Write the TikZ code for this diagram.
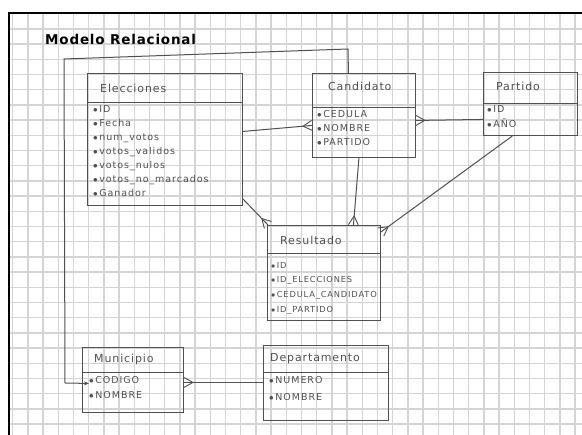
\documentclass[tikz,border=0pt]{standalone}
\usepackage{fontspec}
\setsansfont{DejaVu Sans}
\newfontfamily\handfont[LetterSpace=8]{DejaVu Sans}
\newfontfamily\attrfont[LetterSpace=10]{DejaVu Sans}
\newfontfamily\titlefont[LetterSpace=6]{DejaVu Sans}
\usetikzlibrary{arrows.meta,decorations.markings}
\definecolor{pencil}{HTML}{505050}
\definecolor{gridc}{HTML}{D4D4D4}
\tikzset{
  ent/.style={draw=pencil, line width=0.9pt, anchor=north west, inner sep=0pt},
  htext/.style={anchor=west, inner sep=0pt, text=pencil, font=\handfont\fontsize{11}{12}\selectfont},
  atext/.style={anchor=north west, inner sep=0pt, text=pencil, align=left, font=\attrfont\fontsize{9.5}{14}\selectfont},
  conn/.style={draw=pencil, line width=1pt},
  crowend/.style={postaction={decorate,decoration={markings,mark=at position 1 with {\draw[pencil,line width=0.9pt] (-9pt,0pt)--(0pt,5pt) (-9pt,0pt)--(0pt,-5pt);}}}},
  crowstart/.style={postaction={decorate,decoration={markings,mark=at position 0 with {\draw[pencil,line width=0.9pt] (9pt,0pt)--(0pt,5pt) (9pt,0pt)--(0pt,-5pt);}}}},
  gridline/.style={draw=gridc, line width=1.3pt}
}
\newcommand{\bl}{$\bullet$\,}
\begin{document}
\begin{tikzpicture}[x=1pt,y=-1pt]
\useasboundingbox (0,0) rectangle (582,435);
\fill[white] (0,0) rectangle (582,435);
% grid paper
\foreach \i in {0,...,37} {
  \pgfmathsetmacro\gx{12.7+15.2*\i}
  \draw[gridline] (\gx,13) -- (\gx,435);
}
\foreach \j in {0,...,27} {
  \pgfmathsetmacro\gy{13.7+15.2*\j}
  \draw[gridline] (9,\gy) -- (582,\gy);
}
% frame
\draw[black, line width=2.5pt] (582,13) -- (9,13) -- (9,435);

% title
\node[anchor=west, inner sep=0pt, font=\titlefont\bfseries\fontsize{13.5}{15}\selectfont] (title) at (45,39) {Modelo Relacional};

% Elecciones
\node[ent, minimum width=155pt, minimum height=29pt] (elecH) at (87,73) {};
\node[ent, minimum width=155pt, minimum height=103pt] (elecB) at (87,102) {};
\node[htext] (elecT) at (100,88) {Elecciones};
\node[atext] (elecA) at (93,105) {\bl ID\\ \bl Fecha\\ \bl num\_votos\\ \bl votos\_validos\\ \bl votos\_nulos\\ \bl votos\_no\_marcados\\ \bl Ganador};

% Candidato
\node[ent, minimum width=103pt, minimum height=34pt] (candH) at (312,73) {};
\node[ent, minimum width=103pt, minimum height=50pt] (candB) at (312,107) {};
\node[htext] (candT) at (328,86) {Candidato};
\node[atext] (candA) at (317,110) {\bl CEDULA\\ \bl NOMBRE\\ \bl PARTIDO};

% Partido
\node[ent, minimum width=94pt, minimum height=31pt] (partH) at (483,72) {};
\node[ent, minimum width=94pt, minimum height=32pt] (partB) at (483,103) {};
\node[htext] (partT) at (496,86) {Partido};
\node[atext, font=\attrfont\fontsize{9.5}{15}\selectfont] (partA) at (487,105) {\bl ID\\ \bl AÑO};

% Resultado
\node[ent, minimum width=113pt, minimum height=28pt] (resH) at (267,225) {};
\node[ent, minimum width=113pt, minimum height=67pt] (resB) at (267,253) {};
\node[htext] (resT) at (280,240) {Resultado};
\node[atext, font=\attrfont\fontsize{8.3}{14.7}\selectfont] (resA) at (271,262) {\bl ID\\ \bl ID\_ELECCIONES\\ \bl CEDULA\_CANDIDATO\\ \bl ID\_PARTIDO};

% Municipio
\node[ent, minimum width=101pt, minimum height=25pt] (munH) at (82,347) {};
\node[ent, minimum width=101pt, minimum height=40pt] (munB) at (82,372) {};
\node[htext] (munT) at (94,359) {Municipio};
\node[atext, font=\attrfont\fontsize{9.5}{15}\selectfont] (munA) at (89,376) {\bl CODIGO\\ \bl NOMBRE};

% Departamento
\node[ent, minimum width=125pt, minimum height=27pt] (depH) at (263,345) {};
\node[ent, minimum width=125pt, minimum height=48pt] (depB) at (263,372) {};
\node[htext] (depT) at (270,359) {Departamento};
\node[atext, font=\attrfont\fontsize{9.5}{17}\selectfont] (depA) at (269,376) {\bl NUMERO\\ \bl NOMBRE};

% connectors
\draw[conn, crowend] ([yshift=22.5pt]elecB.east) -- ([yshift=7pt]candB.west);
\draw[conn, crowend] ([yshift=7pt]elecB.south east) -- ([xshift=1pt]resH.north west);
\draw[conn, crowend] ([xshift=-5pt]candB.south) -- ([xshift=29.5pt]resH.north);
\draw[conn, crowend] ([xshift=-18pt]partB.south) -- ([yshift=-7pt]resH.north east);
\draw[conn, crowstart] ([yshift=12pt]candB.east) -- (partB.west);
\draw[conn, crowstart] ([yshift=10pt]munB.east) -- ([yshift=14pt]depB.west);

% outer connector Candidato -> Municipio
\coordinate (bendR) at (348,49);
\coordinate (bendL) at (64,59);
\coordinate (bendB) at (65,383);
\draw[conn, -{Stealth[length=5pt,width=4pt]}] ([xshift=-15.5pt]candH.north) -- (bendR) -- (bendL) -- (bendB) -- ([xshift=7pt,yshift=9pt]munB.west);
\end{tikzpicture}
\end{document}
